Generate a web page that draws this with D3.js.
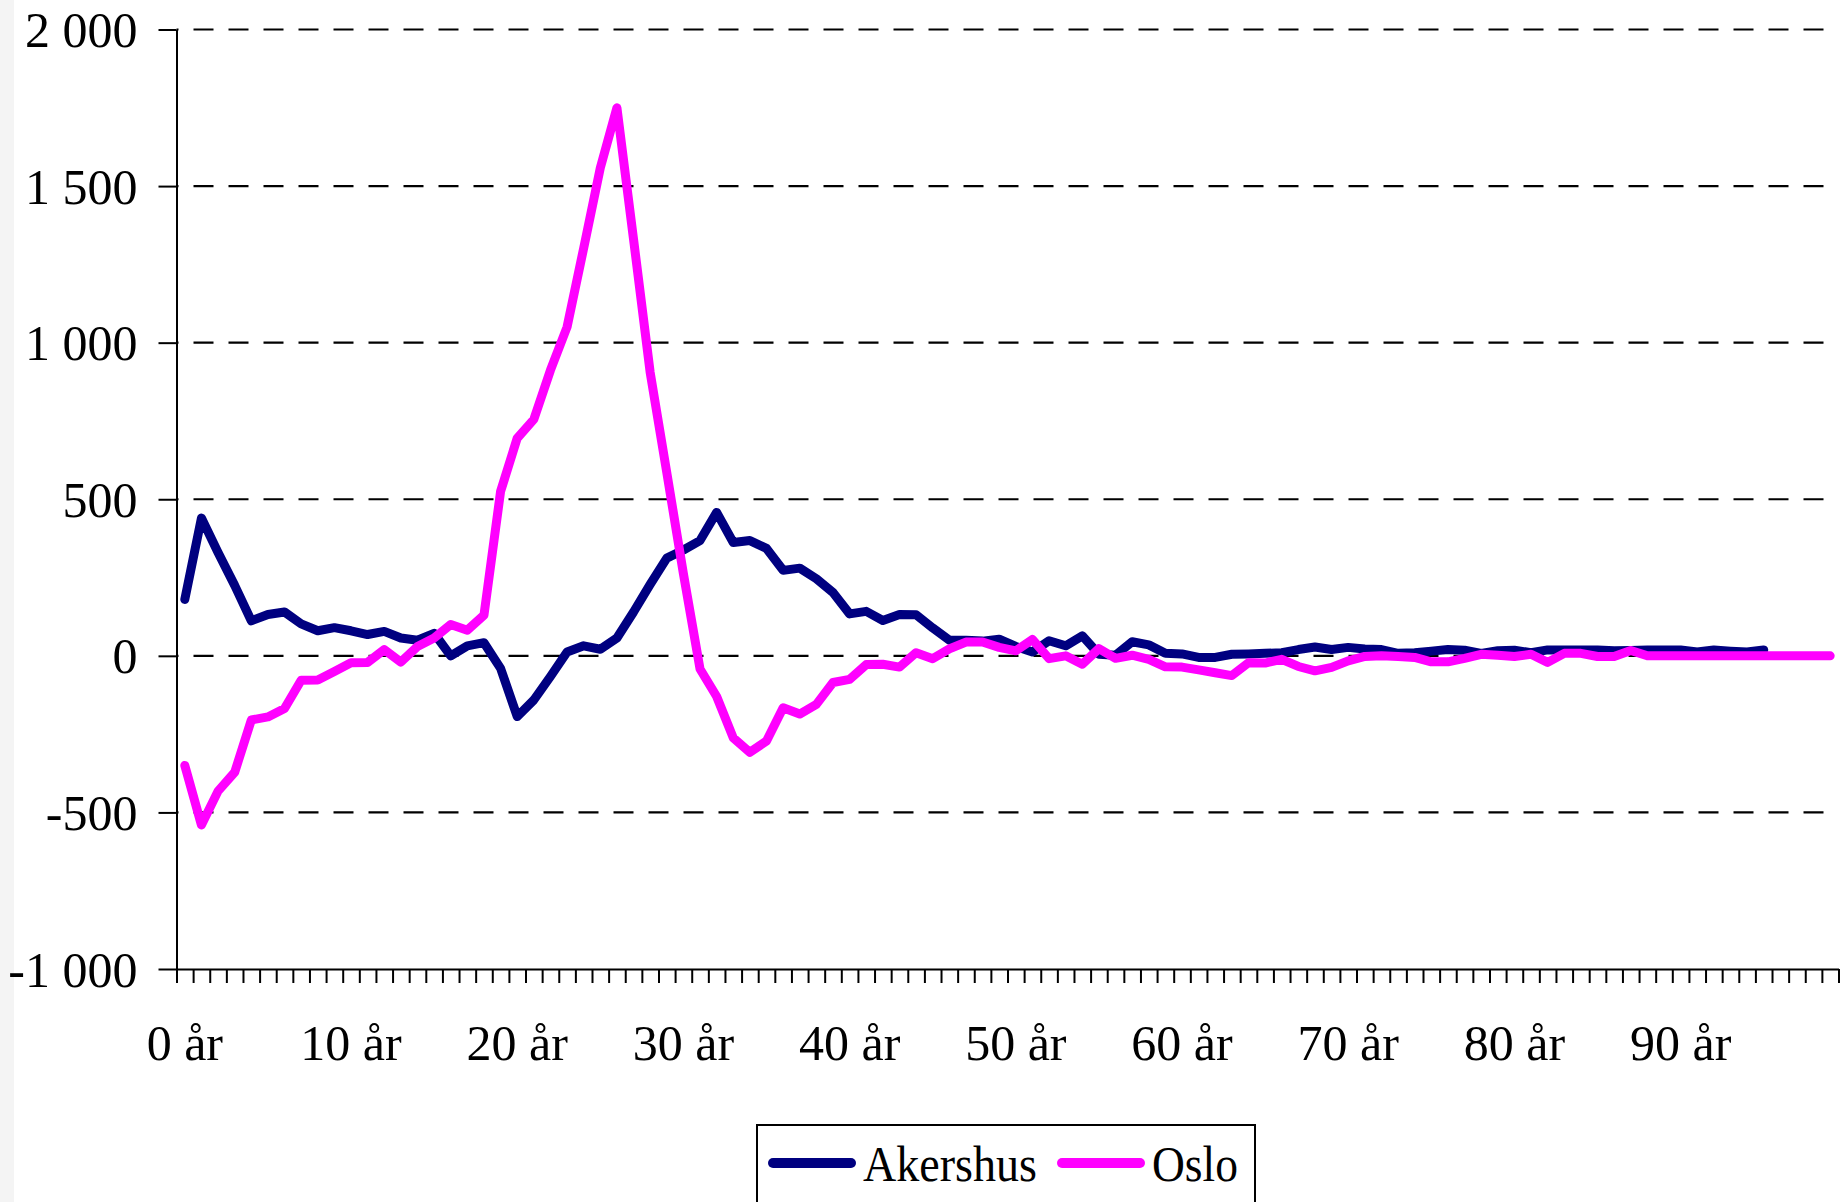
<!DOCTYPE html>
<html>
<head>
<meta charset="utf-8">
<script src="https://cdn.jsdelivr.net/npm/d3@7/dist/d3.min.js"></script>
<style>
  html, body { margin:0; padding:0; background:#fff; }
  svg text { font-family:"Liberation Serif","Times New Roman",serif; fill:#000; }
</style>
</head>
<body>
<div class="chart"></div>
<script>
// ages 0..99, labels every 10th
var ages = d3.range(0, 100);
var ageLabels = ["0 år","10 år","20 år","30 år","40 år","50 år","60 år","70 år","80 år","90 år"];
var yTicks = [-1000, -500, 0, 500, 1000, 1500, 2000];
var seriesNames = ["Akershus", "Oslo"];
var seriesColors = ["#000080", "#ff00ff"];

// Akershus, ages 0..95
var akershus = [180,440,330,225,112,132,140,102,80,90,
  80,68,78,57,50,72,0,32,42,-40,
  -194,-141,-66,12,32,21,57,140,228,312,
  338,368,458,362,368,343,273,280,246,202,
  134,142,113,132,131,89,50,50,47,53,
  30,12,48,32,64,5,2,45,35,8,
  6,-5,-5,5,6,8,10,20,28,20,
  27,22,20,8,10,15,20,18,8,16,
  18,10,19,19,19,19,16,17,19,19,
  19,12,19,15,12,19];

// Oslo, ages 0..99
var oslo = [-350,-540,-432,-372,-205,-195,-168,-78,-77,-50,
  -22,-21,20,-20,30,57,100,82,130,525,
  695,755,912,1050,1302,1558,1750,1330,905,585,
  262,-42,-130,-262,-308,-272,-166,-186,-155,-85,
  -75,-28,-27,-36,10,-9,22,44,44,27,
  16,52,-9,0,-27,23,-8,2,-11,-35,
  -36,-45,-54,-63,-22,-23,-11,-34,-48,-37,
  -16,-2,0,-2,-5,-19,-19,-8,5,2,
  -2,5,-21,8,8,-2,-2,17,0,0,
  0,0,0,0,0,0,0,0,0,0];

var W = 1841, H = 1202;
var plotL = 176.5, plotR = 1838.5, plotT = 29.5, plotB = 969;

var svg = d3.select(".chart").append("svg")
  .attr("width", W).attr("height", H);

svg.append("rect").attr("x",0).attr("y",0).attr("width",14).attr("height",H).attr("fill","#f4f4f4");

var x = d3.scaleBand().domain(ages).range([plotL, plotR]).padding(0);
var xb = d3.scaleLinear().domain([0, ages.length]).range([plotL, plotR]);
var y = d3.scaleLinear().domain([-1000, 2000]).range([plotB, plotT]);

var loc = d3.formatLocale({decimal:",", thousands:" ", grouping:[3], currency:["",""], minus:"-"});
var fmt = loc.format(",d");

// dashed grid
svg.append("g").selectAll("line")
  .data(yTicks.filter(function(d){ return d > -1000; }))
  .enter().append("line")
  .attr("x1", plotL).attr("x2", plotR)
  .attr("y1", function(d){ return y(d); }).attr("y2", function(d){ return y(d); })
  .attr("stroke", "#000").attr("stroke-width", 2.2)
  .attr("stroke-dasharray", "20,15").attr("stroke-dashoffset", -17);

// y axis
var yAxis = svg.append("g")
  .attr("transform", "translate(" + plotL + ",0)")
  .call(d3.axisLeft(y).tickValues(yTicks).tickSize(18).tickSizeOuter(0).tickPadding(21).tickFormat(fmt));
yAxis.selectAll("text").style("font-size", "50px").attr("dy", "0.34em");
yAxis.selectAll("line, path").attr("stroke", "#000").attr("stroke-width", 2);

// x axis: ticks on category boundaries
var xAxis = svg.append("g")
  .attr("transform", "translate(0," + plotB + ")")
  .call(d3.axisBottom(xb).tickValues(d3.range(0, ages.length + 1)).tickSize(14).tickSizeOuter(0).tickFormat(""));
xAxis.selectAll("line, path").attr("stroke", "#000").attr("stroke-width", 2);

svg.append("g").selectAll("text")
  .data(ageLabels)
  .enter().append("text")
  .attr("x", function(d, i){ return x(i * 10) + x.bandwidth() / 2; })
  .attr("y", 1060)
  .attr("text-anchor", "middle")
  .style("font-size", "50px")
  .text(function(d){ return d; });

// lines
var line = d3.line()
  .x(function(d, i){ return x(ages[i]) + x.bandwidth() / 2; })
  .y(function(d){ return y(d); });

[akershus, oslo].forEach(function(s, k){
  svg.append("path")
    .datum(s)
    .attr("d", line)
    .attr("fill", "none")
    .attr("stroke", seriesColors[k])
    .attr("stroke-width", 9)
    .attr("stroke-linejoin", "round")
    .attr("stroke-linecap", "round");
});

// legend
var lg = svg.append("g");
lg.append("rect")
  .attr("x", 757).attr("y", 1125).attr("width", 498).attr("height", 100)
  .attr("fill", "#fff").attr("stroke", "#000").attr("stroke-width", 2);
var lgX = [773, 1062], lgW = [174, 86];
seriesNames.forEach(function(n, k){
  lg.append("line")
    .attr("x1", lgX[k]).attr("x2", lgX[k] + 78)
    .attr("y1", 1163).attr("y2", 1163)
    .attr("stroke", seriesColors[k]).attr("stroke-width", 10).attr("stroke-linecap", "round");
  lg.append("text")
    .attr("x", lgX[k] + 90).attr("y", 1181)
    .attr("textLength", lgW[k]).attr("lengthAdjust", "spacingAndGlyphs")
    .style("font-size", "50px")
    .text(n);
});
</script>
</body>
</html>
